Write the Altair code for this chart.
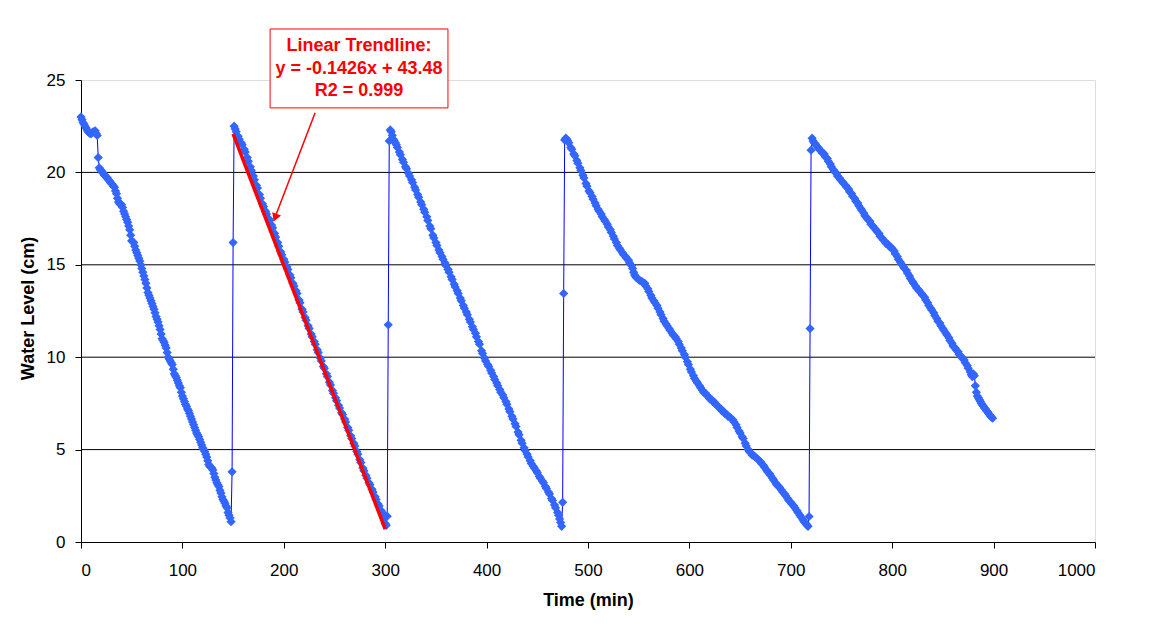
import altair as alt
import pandas as pd

# ---- data: (time in min, water level in cm) ----
seg1 = [(0, 23.0), (1, 22.85), (2, 22.7), (3, 22.6), (4, 22.5), (5, 22.4), (6, 22.3), (7, 22.2),
        (8, 22.15), (9, 22.1), (10, 22.1), (11, 22.15), (12, 22.2), (13, 22.2), (14, 22.25),
        (15, 22.1), (16, 22.0), (17, 20.8), (18, 20.25), (19, 20.15), (20, 20.1), (21, 20.0),
        (22, 19.95), (23, 19.85), (24, 19.8), (25, 19.75), (26, 19.7), (27, 19.6), (28, 19.55),
        (29, 19.45), (30, 19.4), (31, 19.35), (32, 19.25), (33, 19.2), (34, 19.0), (35, 18.85),
        (36, 18.6), (37, 18.4), (38, 18.3), (39, 18.3), (40, 18.25), (41, 18.1), (42, 17.9),
        (43, 17.75), (44, 17.6), (45, 17.45), (46, 17.3), (47, 17.1), (48, 16.9), (49, 16.6),
        (50, 16.3), (51, 16.25), (52, 16.2), (53, 16.0), (54, 15.8), (55, 15.65), (56, 15.5),
        (57, 15.35), (58, 15.2), (59, 15.0), (60, 14.8), (61, 14.6), (62, 14.4), (63, 14.2),
        (64, 14.0), (65, 13.75), (66, 13.5), (67, 13.35), (68, 13.2), (69, 13.05), (70, 12.9),
        (71, 12.75), (72, 12.6), (73, 12.4), (74, 12.2), (75, 12.05), (76, 11.9), (77, 11.7),
        (78, 11.5), (79, 11.25), (80, 11.0), (81, 10.9), (82, 10.8), (83, 10.65), (84, 10.5),
        (85, 10.25), (86, 10.0), (87, 9.9), (88, 9.8), (89, 9.7), (90, 9.6), (91, 9.35), (92, 9.1),
        (93, 9.0), (94, 8.9), (95, 8.75), (96, 8.6), (97, 8.45), (98, 8.35), (99, 8.1), (100, 7.9),
        (101, 7.75), (102, 7.6), (103, 7.45), (104, 7.35), (105, 7.2), (106, 7.1), (107, 6.95),
        (108, 6.8), (109, 6.65), (110, 6.5), (111, 6.35), (112, 6.2), (113, 6.05), (114, 5.9),
        (115, 5.8), (116, 5.7), (117, 5.55), (118, 5.4), (119, 5.25), (120, 5.1), (121, 5.0),
        (122, 4.9), (123, 4.75), (124, 4.6), (125, 4.4), (126, 4.2), (127, 4.1), (128, 4.05),
        (129, 4.0), (130, 3.9), (131, 3.7), (132, 3.5), (133, 3.35), (134, 3.2), (135, 3.1),
        (136, 3.0), (137, 2.8), (138, 2.65), (139, 2.45), (140, 2.3), (141, 2.2), (142, 2.1),
        (143, 1.95), (144, 1.85), (145, 1.6), (146, 1.45), (147, 1.3), (148, 1.1)]
jump1 = [(149, 3.8), (150, 16.2)]
seg2 = [(151, 22.5), (152, 22.35), (153, 22.2), (155, 21.95), (156, 21.8), (158, 21.6), (159, 21.5),
        (161, 21.25), (162, 21.1), (164, 20.8), (165, 20.6), (167, 20.3), (168, 20.1), (170, 19.8),
        (171, 19.6), (173, 19.3), (174, 19.15), (176, 18.8), (177, 18.6), (179, 18.3), (180, 18.15),
        (182, 17.9), (183, 17.75), (185, 17.5), (186, 17.4), (188, 17.15), (189, 17.0), (191, 16.7),
        (192, 16.5), (194, 16.2), (195, 16.0), (197, 15.7), (198, 15.55), (200, 15.3), (201, 15.15),
        (203, 14.9), (204, 14.75), (206, 14.45), (207, 14.3), (209, 14.0), (210, 13.85), (212, 13.6),
        (213, 13.45), (215, 13.1), (216, 12.95), (218, 12.6), (219, 12.45), (221, 12.15), (222, 12.0),
        (224, 11.7), (225, 11.55), (227, 11.25), (228, 11.1), (230, 10.85), (231, 10.7), (233, 10.4),
        (234, 10.25), (236, 9.95), (237, 9.8), (239, 9.5), (240, 9.4), (242, 9.1), (243, 8.95),
        (245, 8.65), (246, 8.5), (248, 8.2), (249, 8.05), (251, 7.8), (252, 7.65), (254, 7.4),
        (255, 7.25), (257, 7.0), (258, 6.9), (260, 6.65), (261, 6.5), (263, 6.2), (264, 6.05),
        (266, 5.75), (267, 5.6), (269, 5.35), (270, 5.2), (272, 4.9), (273, 4.75), (275, 4.45),
        (276, 4.3), (278, 4.0), (279, 3.85), (281, 3.6), (282, 3.45), (284, 3.2), (285, 3.1),
        (287, 2.85), (288, 2.7), (290, 2.45), (291, 2.3), (293, 2.05), (294, 1.95), (296, 1.7),
        (297, 1.6), (299, 1.3), (300, 1.0), (301, 0.9)]
jump2 = [(302, 1.4), (303, 11.75), (304, 21.7)]
seg3 = [(305, 22.3), (306, 22.2), (307, 22.0), (308, 21.8), (309, 21.7), (310, 21.6), (311, 21.5),
        (312, 21.35), (314, 21.1), (315, 20.95), (317, 20.7), (318, 20.55), (320, 20.3), (321, 20.2),
        (323, 19.95), (324, 19.8), (326, 19.6), (327, 19.45), (329, 19.2), (330, 19.05), (332, 18.8),
        (333, 18.65), (335, 18.4), (336, 18.25), (338, 18.0), (339, 17.85), (341, 17.6), (342, 17.4),
        (344, 17.1), (345, 16.95), (347, 16.6), (348, 16.45), (350, 16.2), (351, 16.05), (353, 15.8),
        (354, 15.65), (356, 15.45), (357, 15.3), (359, 15.1), (360, 14.95), (362, 14.75), (363, 14.6),
        (365, 14.35), (366, 14.2), (368, 13.95), (369, 13.8), (371, 13.6), (372, 13.45), (374, 13.2),
        (375, 13.05), (377, 12.8), (378, 12.65), (380, 12.45), (381, 12.3), (383, 12.05), (384, 11.9),
        (386, 11.65), (387, 11.5), (389, 11.3), (390, 11.1), (392, 10.85), (393, 10.7), (395, 10.35),
        (396, 10.2), (398, 9.95), (399, 9.8), (401, 9.6), (402, 9.5), (404, 9.3), (405, 9.15),
        (407, 8.95), (408, 8.8), (410, 8.6), (411, 8.45), (413, 8.25), (414, 8.1), (416, 7.95),
        (417, 7.8), (419, 7.6), (420, 7.45), (422, 7.2), (423, 7.05), (425, 6.8), (426, 6.65),
        (428, 6.4), (429, 6.25), (431, 5.95), (432, 5.8), (434, 5.5), (435, 5.35), (437, 5.1),
        (438, 4.95), (440, 4.75), (441, 4.6), (443, 4.4), (444, 4.25), (446, 4.1), (447, 4.0),
        (449, 3.85), (450, 3.75), (452, 3.55), (453, 3.45), (455, 3.3), (456, 3.2), (458, 3.0),
        (459, 2.9), (461, 2.7), (462, 2.6), (464, 2.35), (465, 2.25), (467, 2.0), (468, 1.85),
        (470, 1.6), (471, 1.45), (472, 1.25), (473, 1.05), (474, 0.85)]
jump3 = [(475, 2.15), (476, 13.45), (477, 21.75)]
seg4 = [(478, 21.85), (479, 21.8), (480, 21.7), (481, 21.6), (483, 21.35), (484, 21.25), (486, 21.0),
        (487, 20.9), (489, 20.65), (490, 20.5), (492, 20.25), (493, 20.1), (495, 19.85), (496, 19.7),
        (498, 19.4), (499, 19.25), (501, 19.0), (502, 18.9), (504, 18.7), (505, 18.55), (507, 18.35),
        (508, 18.2), (510, 18.0), (511, 17.9), (513, 17.75), (514, 17.6), (516, 17.45), (517, 17.35),
        (519, 17.2), (520, 17.05), (522, 16.9), (523, 16.75), (525, 16.55), (526, 16.4), (528, 16.2),
        (529, 16.05), (531, 15.9), (532, 15.8), (534, 15.65), (535, 15.55), (537, 15.45), (538, 15.35),
        (540, 15.25), (541, 15.1), (543, 14.95), (544, 14.8), (545, 14.6), (546, 14.45), (547, 14.35),
        (548, 14.3), (550, 14.2), (551, 14.15), (553, 14.1), (554, 14.05), (556, 14.0), (557, 13.85),
        (559, 13.7), (560, 13.55), (562, 13.35), (563, 13.2), (565, 13.05), (566, 12.95), (568, 12.8),
        (569, 12.65), (571, 12.45), (572, 12.3), (574, 12.1), (575, 11.95), (577, 11.8), (578, 11.7),
        (580, 11.55), (581, 11.45), (583, 11.3), (584, 11.2), (586, 11.1), (587, 11.0), (589, 10.85),
        (590, 10.7), (592, 10.5), (593, 10.35), (595, 10.15), (596, 10.0), (598, 9.75), (599, 9.6),
        (601, 9.35), (602, 9.2), (604, 9.0), (605, 8.85), (607, 8.7), (608, 8.6), (610, 8.45),
        (611, 8.35), (613, 8.2), (614, 8.1), (616, 8.05), (617, 7.95), (619, 7.85), (620, 7.75),
        (622, 7.7), (623, 7.6), (625, 7.55), (626, 7.45), (628, 7.35), (629, 7.3), (631, 7.2),
        (632, 7.1), (634, 7.05), (635, 6.95), (637, 6.9), (638, 6.8), (640, 6.75), (641, 6.7),
        (643, 6.6), (644, 6.5), (646, 6.35), (647, 6.2), (649, 6.0), (650, 5.9), (652, 5.7),
        (653, 5.6), (655, 5.35), (656, 5.2), (658, 5.0), (659, 4.9), (661, 4.8), (662, 4.7),
        (664, 4.65), (665, 4.6), (667, 4.5), (668, 4.45), (670, 4.35), (671, 4.25), (673, 4.15),
        (674, 4.05), (676, 3.9), (677, 3.8), (679, 3.7), (680, 3.6), (682, 3.45), (683, 3.35),
        (685, 3.2), (686, 3.1), (688, 3.0), (689, 2.95), (691, 2.8), (692, 2.7), (694, 2.6),
        (695, 2.5), (697, 2.35), (698, 2.25), (700, 2.15), (701, 2.05), (703, 1.95), (704, 1.85),
        (706, 1.7), (707, 1.6), (709, 1.45), (710, 1.35), (712, 1.2), (713, 1.1), (715, 1.0),
        (716, 0.9), (717, 0.85)]
jump4 = [(718, 1.38), (719, 11.55), (720, 21.2)]
seg5 = [(721, 21.85), (722, 21.7), (723, 21.6), (724, 21.55), (725, 21.45), (727, 21.35), (728, 21.25),
        (730, 21.15), (731, 21.05), (733, 21.0), (734, 20.85), (736, 20.75), (737, 20.6), (739, 20.45),
        (740, 20.3), (742, 20.15), (743, 20.05), (745, 19.95), (746, 19.8), (748, 19.7), (749, 19.6),
        (751, 19.5), (752, 19.4), (754, 19.3), (755, 19.2), (757, 19.1), (758, 18.95), (760, 18.85),
        (761, 18.7), (763, 18.6), (764, 18.45), (766, 18.35), (767, 18.2), (769, 18.05), (770, 17.95),
        (772, 17.8), (773, 17.65), (775, 17.55), (776, 17.45), (778, 17.35), (779, 17.2), (781, 17.1),
        (782, 17.0), (784, 16.9), (785, 16.8), (787, 16.7), (788, 16.55), (790, 16.45), (791, 16.35),
        (793, 16.25), (794, 16.15), (796, 16.1), (797, 16.0), (799, 15.95), (800, 15.85), (802, 15.75),
        (803, 15.6), (805, 15.45), (806, 15.3), (808, 15.15), (809, 15.05), (811, 14.9), (812, 14.8),
        (814, 14.7), (815, 14.55), (817, 14.4), (818, 14.25), (820, 14.1), (821, 14.0), (823, 13.85),
        (824, 13.75), (826, 13.65), (827, 13.55), (829, 13.45), (830, 13.35), (832, 13.25), (833, 13.1),
        (835, 12.95), (836, 12.8), (838, 12.65), (839, 12.55), (841, 12.4), (842, 12.25), (844, 12.1),
        (845, 11.95), (847, 11.85), (848, 11.7), (850, 11.55), (851, 11.45), (853, 11.3), (854, 11.2),
        (856, 11.05), (857, 10.9), (859, 10.75), (860, 10.6), (862, 10.5), (863, 10.4), (865, 10.3),
        (866, 10.15), (868, 10.05), (869, 9.95), (871, 9.85), (872, 9.7), (874, 9.55), (875, 9.4),
        (877, 9.2), (878, 9.05), (879, 8.95), (880, 9.1), (881, 9.0), (882, 8.45), (883, 8.1),
        (884, 7.9), (885, 7.8), (886, 7.7), (887, 7.6), (888, 7.5), (889, 7.4), (890, 7.35),
        (891, 7.25), (892, 7.2), (893, 7.1), (894, 7.05), (895, 6.95), (896, 6.9), (897, 6.8),
        (898, 6.75), (899, 6.7)]

trend_time = [150, 300]
trend_level = [22.09, 0.70]

grid_levels = [5, 10, 15, 20]
x_ticks = list(range(0, 1001, 100))
y_ticks = [0, 5, 10, 15, 20, 25]

note_lines = ["Linear Trendline:", "y = -0.1426x + 43.48", "R2 = 0.999"]

# ---- tables ----
rows = []
for seg in [seg1, jump1, seg2, jump2, seg3, jump3, seg4, jump4, seg5]:
    rows.extend(seg)
df = pd.DataFrame(rows, columns=["time", "level"])
trend_df = pd.DataFrame({"time": trend_time, "level": trend_level})
grid_df = pd.DataFrame({"level": grid_levels})

# annotation placement (data space)
box_df = pd.DataFrame({"x": [186.5], "x2": [361.9], "y": [23.49], "y2": [27.76]})
text_df = pd.DataFrame({"x": [274.2] * 3, "y": [26.82, 25.57, 24.38], "t": note_lines})
arrow_df = pd.DataFrame({"x": [230.9, 190.5], "y": [23.23, 17.45]})
head_df = pd.DataFrame({"x": [191.5], "y": [17.55]})

FONT = "Liberation Sans"
xs = alt.Scale(domain=[0, 1000], nice=False)
ys = alt.Scale(domain=[0, 25], nice=False)

x_enc = alt.X("time:Q", scale=xs, axis=alt.Axis(
    title="Time (min)", values=x_ticks, format="d", grid=False, domainColor="black",
    tickColor="black", tickSize=6, labelFontSize=17, labelColor="black", labelPadding=14,
    labelFont=FONT, titleFont=FONT, titleFontSize=18, titleFontWeight="bold", titleColor="black",
    titleBaseline="middle", titleY=58))
y_enc = alt.Y("level:Q", scale=ys, axis=alt.Axis(
    title="Water Level (cm)", values=y_ticks, format="d", grid=False, domainColor="black",
    tickColor="black", tickSize=6, labelFontSize=17, labelColor="black", labelPadding=10,
    labelFont=FONT, titleFont=FONT, titleFontSize=18, titleFontWeight="bold", titleColor="black",
    titleBaseline="middle", titleX=-53, titleY=228))

grid = alt.Chart(grid_df).mark_rule(color="black", strokeWidth=1).encode(
    y=alt.Y("level:Q", scale=ys))

line = alt.Chart(df).mark_line(color="#0000FF", strokeWidth=1).encode(x=x_enc, y=y_enc)
pts = alt.Chart(df).mark_point(shape="diamond", filled=True, color="#3366FF", size=85,
                               opacity=1).encode(x="time:Q", y="level:Q")

trend = alt.Chart(trend_df).mark_line(color="#FF0000", strokeWidth=3.5).encode(
    x="time:Q", y="level:Q")

arrow = alt.Chart(arrow_df).mark_line(color="#FF0000", strokeWidth=1.5).encode(
    x=alt.X("x:Q", scale=xs), y=alt.Y("y:Q", scale=ys))
head = alt.Chart(head_df).mark_point(shape="triangle-down", filled=True, color="#FF0000",
                                     size=90, angle=21, opacity=1).encode(
    x=alt.X("x:Q", scale=xs), y=alt.Y("y:Q", scale=ys))

box = alt.Chart(box_df).mark_rect(fill="white", stroke="#FF0000", strokeWidth=1).encode(
    x=alt.X("x:Q", scale=xs), x2="x2:Q", y=alt.Y("y:Q", scale=ys), y2="y2:Q")
txt = alt.Chart(text_df).mark_text(font=FONT, fontSize=18, fontWeight="bold", color="#FF0000",
                                   align="center", baseline="middle").encode(
    x=alt.X("x:Q", scale=xs), y=alt.Y("y:Q", scale=ys), text="t:N")

chart = alt.layer(grid, line, pts, trend, arrow, head, box, txt).properties(
    width=1014, height=462,
    autosize=alt.AutoSizeParams(type="none"),
    padding={"left": 73, "top": 72, "right": 50, "bottom": 70},
).configure_view(stroke="#808080", strokeWidth=1).configure(background="white")

chart.save("out.html", embed_options={"renderer": "svg", "actions": False})
